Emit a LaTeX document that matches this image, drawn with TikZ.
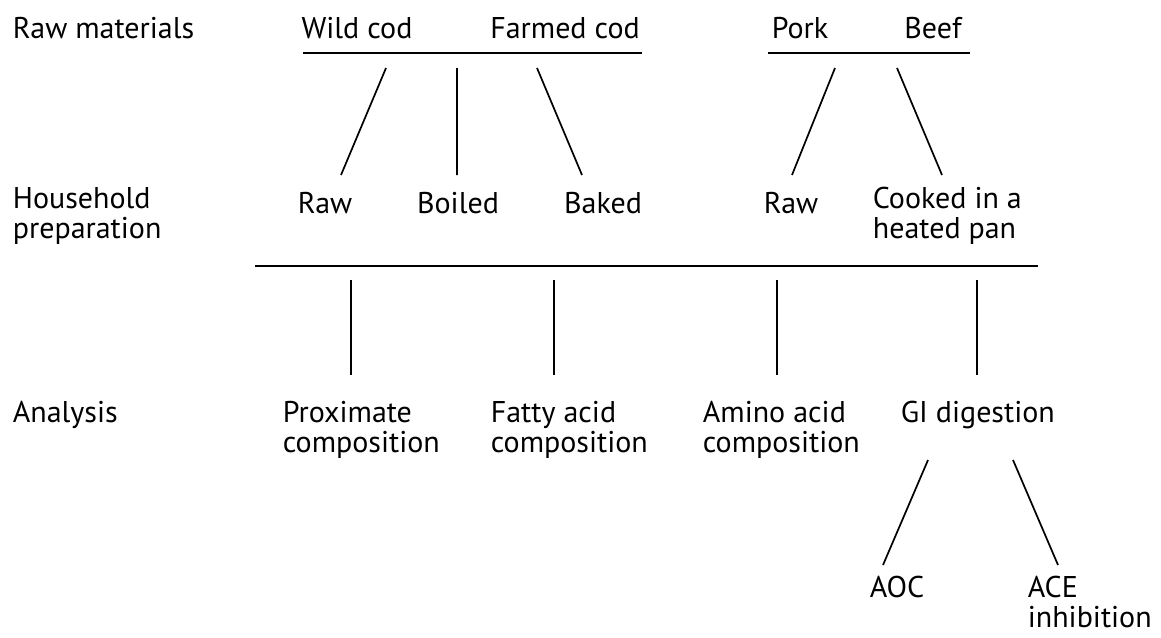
\documentclass[tikz,border=0pt]{standalone}
\usepackage{fontspec}
\setmainfont{PT Sans}
\begin{document}
\begin{tikzpicture}[x=1pt,y=-1pt,line width=1.7pt,line cap=butt,font=\fontsize{30}{30}\selectfont,
	lbl/.style={inner sep=0pt,align=left,anchor=base},
	lblw/.style={lbl,anchor=base west}]
	\useasboundingbox (0,0) rectangle (1161,637);
	% row labels (base = last line)
	\node[lblw] (rawmat) at (12,38) {Raw materials};
	\node[lblw] (house) at (12,238) {Household\\preparation};
	\node[lblw] (analysis) at (12,422) {Analysis};
	% raw materials
	\node[lbl] (wild) at (357,38) {Wild cod};
	\node[lbl] (farmed) at (565,38) {Farmed cod};
	\node[lbl] (pork) at (800,38) {Pork};
	\node[lbl] (beef) at (933,38) {Beef};
	% preparation
	\node[lbl] (fraw) at (325,213) {Raw};
	\node[lbl] (boiled) at (458,213) {Boiled};
	\node[lbl] (baked) at (603,213) {Baked};
	\node[lbl] (mraw) at (791,213) {Raw};
	\node[lblw] (cooked) at (872,238) {Cooked in a\\heated pan};
	% analysis
	\node[lblw] (prox) at (282,452) {Proximate\\composition};
	\node[lblw] (fatty) at (490,452) {Fatty acid\\composition};
	\node[lblw] (amino) at (702,452) {Amino acid\\composition};
	\node[lblw] (gi) at (900,422) {GI digestion};
	\node[lbl] (aoc) at (897,597) {AOC};
	\node[lblw] (ace) at (1027,627) {ACE\\inhibition};
	% bars
	\coordinate (fishL) at (303,53); \coordinate (fishR) at (642,53);
	\coordinate (meatL) at (768,53); \coordinate (meatR) at (970,53);
	\coordinate (prepL) at (255,266); \coordinate (prepR) at (1038,266);
	\draw (fishL) -- (fishR);
	\draw (meatL) -- (meatR);
	\draw (prepL) -- (prepR);
	% branches
	\coordinate (f1) at (386,68); \coordinate (f1e) at (341,175);
	\coordinate (f2) at (457,68); \coordinate (f2e) at (457,175);
	\coordinate (f3) at (537,68); \coordinate (f3e) at (582,175);
	\coordinate (m1) at (835,68); \coordinate (m1e) at (792,175);
	\coordinate (m2) at (897,68); \coordinate (m2e) at (942,175);
	\draw (f1) -- (f1e) (f2) -- (f2e) (f3) -- (f3e) (m1) -- (m1e) (m2) -- (m2e);
	\foreach \n/\x in {a/351,b/554,c/777,d/977}
		\draw (\x,280) coordinate (\n1) -- (\x,375) coordinate (\n2);
	\coordinate (g1) at (928,460); \coordinate (g1e) at (883,565);
	\coordinate (g2) at (1013,460); \coordinate (g2e) at (1058,565);
	\draw (g1) -- (g1e) (g2) -- (g2e);
\end{tikzpicture}
\end{document}
